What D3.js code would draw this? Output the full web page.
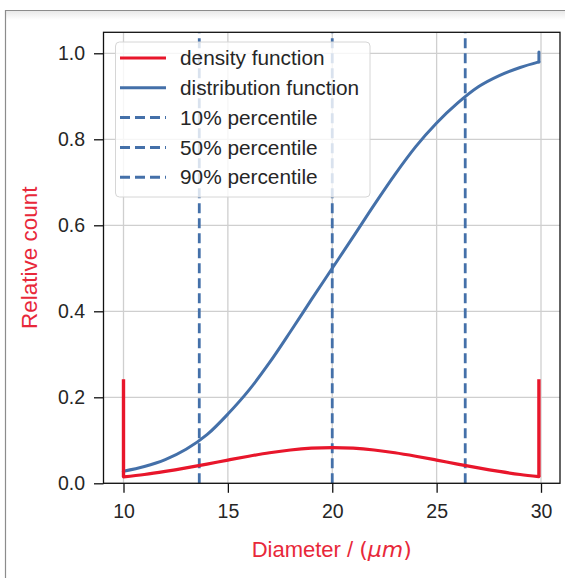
<!DOCTYPE html>
<html>
<head>
<meta charset="utf-8">
<script src="https://cdn.jsdelivr.net/npm/d3@7/dist/d3.min.js"></script>
<style>
  html, body { margin: 0; padding: 0; background: #fff; }
  svg { display: block; }
</style>
</head>
<body>
<svg id="chart" width="565" height="578"></svg>
<script>
// ---- data ----
const densityX = [10, 11, 12, 13, 14, 15, 16, 17, 18, 19, 20, 21, 22, 23, 24, 25, 26, 27, 28, 29, 29.9];
const densityY = [0.015, 0.0205, 0.0276, 0.0357, 0.0446, 0.054, 0.063, 0.0711, 0.0775, 0.0816, 0.083,
                  0.0816, 0.0775, 0.0711, 0.063, 0.054, 0.0446, 0.0357, 0.0276, 0.0205, 0.0155];
const densitySpikeTop = 0.242;

const distX = [10, 11, 12, 13, 14, 15, 16, 17, 18, 19, 20, 21, 22, 23, 24, 25, 26, 27, 28, 29, 29.9];
const distY = [0.028, 0.039, 0.055, 0.079, 0.113, 0.161, 0.216, 0.281, 0.353, 0.427, 0.500,
               0.573, 0.647, 0.718, 0.783, 0.838, 0.884, 0.922, 0.948, 0.967, 0.980];
const distStart = 0.018;
const distEnd = 1.003;

const percentileLabels = ["10% percentile", "50% percentile", "90% percentile"];
const percentileValues = [13.63, 20.0, 26.37];

const xTicks = [10, 15, 20, 25, 30];
const yTicks = [0.0, 0.2, 0.4, 0.6, 0.8, 1.0];

const legendLabels = ["density function", "distribution function"].concat(percentileLabels);

// ---- styling ----
const RED = "#e8162b";
const BLUE = "#4470a9";
const LABEL_RED = "#e8283a";
const TXT = "#262626";
const GRID = "#cfcfcf";
const FONT = "'Liberation Sans', Arial, Helvetica, sans-serif";

const svg = d3.select("#chart");

// outer notebook-like frame
const defs = svg.append("defs");
const grad = defs.append("linearGradient").attr("id", "topShade").attr("x1", 0).attr("y1", 0).attr("x2", 0).attr("y2", 1);
grad.append("stop").attr("offset", "0%").attr("stop-color", "#e9e9e9");
grad.append("stop").attr("offset", "100%").attr("stop-color", "#ffffff");
svg.append("rect").attr("x", 6).attr("y", 11).attr("width", 559).attr("height", 9).attr("fill", "url(#topShade)");
svg.append("line").attr("x1", 5).attr("x2", 565).attr("y1", 10.5).attr("y2", 10.5).attr("stroke", "#8c8c8c").attr("stroke-width", 1.2);
svg.append("line").attr("x1", 5.5).attr("x2", 5.5).attr("y1", 10).attr("y2", 578).attr("stroke", "#8c8c8c").attr("stroke-width", 1.2);

// plot area
const L = 103.5, R = 560, T = 32.3, B = 483.3;
const x = d3.scaleLinear().domain([9.042, 30.91]).range([L, R]);
const y = d3.scaleLinear().domain([0, 1.0488]).range([B, T]);

// grid
const g = svg.append("g");
g.selectAll(".gx").data(xTicks).enter().append("line")
  .attr("x1", d => x(d)).attr("x2", d => x(d)).attr("y1", T).attr("y2", B)
  .attr("stroke", GRID).attr("stroke-width", 1.3);
g.selectAll(".gy").data(yTicks).enter().append("line")
  .attr("x1", L).attr("x2", R).attr("y1", d => y(d)).attr("y2", d => y(d))
  .attr("stroke", GRID).attr("stroke-width", 1.3);

// percentile lines (dashed), drawn bottom -> top
g.selectAll(".pl").data(percentileValues).enter().append("line")
  .attr("x1", d => x(d)).attr("x2", d => x(d)).attr("y1", B).attr("y2", T)
  .attr("stroke", BLUE).attr("stroke-width", 2.8).attr("stroke-dasharray", "10,5");

// distribution
const distPts = distX.map((v, i) => [v, distY[i]]);
const line = d3.line().x(d => x(d[0])).y(d => y(d[1])).curve(d3.curveMonotoneX);
const straight = d3.line().x(d => x(d[0])).y(d => y(d[1]));
g.append("path").attr("d", line(distPts)).attr("fill", "none").attr("stroke", BLUE)
  .attr("stroke-width", 3).attr("stroke-linecap", "round").attr("stroke-linejoin", "round");
g.append("path").attr("d", straight([[distX[0], distStart], [distX[0], distY[0]]])).attr("fill", "none")
  .attr("stroke", BLUE).attr("stroke-width", 3).attr("stroke-linecap", "round");
g.append("path").attr("d", straight([[distX[distX.length - 1], distY[distY.length - 1]], [distX[distX.length - 1], distEnd]])).attr("fill", "none")
  .attr("stroke", BLUE).attr("stroke-width", 3).attr("stroke-linecap", "round");

// density
const densPts = densityX.map((v, i) => [v, densityY[i]]);
g.append("path").attr("d", line(densPts)).attr("fill", "none").attr("stroke", RED)
  .attr("stroke-width", 3.2).attr("stroke-linecap", "round").attr("stroke-linejoin", "round");
g.append("path").attr("d", straight([[densityX[0], densitySpikeTop], [densityX[0], densityY[0]]])).attr("fill", "none")
  .attr("stroke", RED).attr("stroke-width", 3.4).attr("stroke-linecap", "butt");
g.append("path").attr("d", straight([[densityX[densityX.length - 1], densityY[densityY.length - 1]], [densityX[densityX.length - 1], densitySpikeTop]])).attr("fill", "none")
  .attr("stroke", RED).attr("stroke-width", 3.4).attr("stroke-linecap", "butt");

// frame
svg.append("rect").attr("x", L).attr("y", T).attr("width", R - L).attr("height", B - T)
  .attr("fill", "none").attr("stroke", "#111").attr("stroke-width", 1.3);

// axes (ticks + labels)
const xAxis = d3.axisBottom(x).tickValues(xTicks).tickSize(9.5).tickPadding(11).tickFormat(d3.format("d"));
const xa = svg.append("g").attr("transform", `translate(0,${B})`).call(xAxis);
const yAxis = d3.axisLeft(y).tickValues(yTicks).tickSize(9.5).tickPadding(9).tickFormat(d3.format(".1f"));
const ya = svg.append("g").attr("transform", `translate(${L},0)`).call(yAxis);
[xa, ya].forEach(a => {
  a.select(".domain").remove();
  a.selectAll(".tick line").attr("stroke", "#111").attr("stroke-width", 1.3);
  a.selectAll(".tick text").attr("fill", TXT).style("font-family", FONT).style("font-size", "19.5px");
});

// axis labels
const xl = svg.append("text").attr("x", (L + R) / 2).attr("y", 557).attr("text-anchor", "middle")
  .attr("fill", LABEL_RED).style("font-family", FONT).style("font-size", "22px");
xl.append("tspan").text("Diameter / ");
xl.append("tspan").style("font-family", "'DejaVu Sans', sans-serif").text("(");
xl.append("tspan").style("font-family", "'DejaVu Sans', sans-serif").style("font-style", "italic").text("μm");
xl.append("tspan").style("font-family", "'DejaVu Sans', sans-serif").text(")");

svg.append("text").attr("transform", `translate(36.5,${(T + B) / 2}) rotate(-90)`).attr("text-anchor", "middle")
  .attr("fill", LABEL_RED).style("font-family", FONT).style("font-size", "22.5px").text("Relative count");

// legend
const lg = svg.append("g");
lg.append("rect").attr("x", 115.5).attr("y", 42).attr("width", 254.5).attr("height", 155).attr("rx", 4)
  .attr("fill", "#fff").attr("fill-opacity", 0.8).attr("stroke", "#d6d6d6").attr("stroke-width", 1);
const legendColors = [RED, BLUE, BLUE, BLUE, BLUE];
const legendDash = [null, null, "10,5", "10,5", "10,5"];
const rowY = legendLabels.map((d, i) => 58 + i * 29.8);
legendLabels.forEach((lab, i) => {
  lg.append("line").attr("x1", 120).attr("x2", 166).attr("y1", rowY[i]).attr("y2", rowY[i])
    .attr("stroke", legendColors[i]).attr("stroke-width", 3)
    .attr("stroke-dasharray", legendDash[i]);
  lg.append("text").attr("x", 180).attr("y", rowY[i]).attr("dy", "0.35em")
    .attr("fill", TXT).style("font-family", FONT).style("font-size", "20.8px").text(lab);
});
</script>
</body>
</html>
